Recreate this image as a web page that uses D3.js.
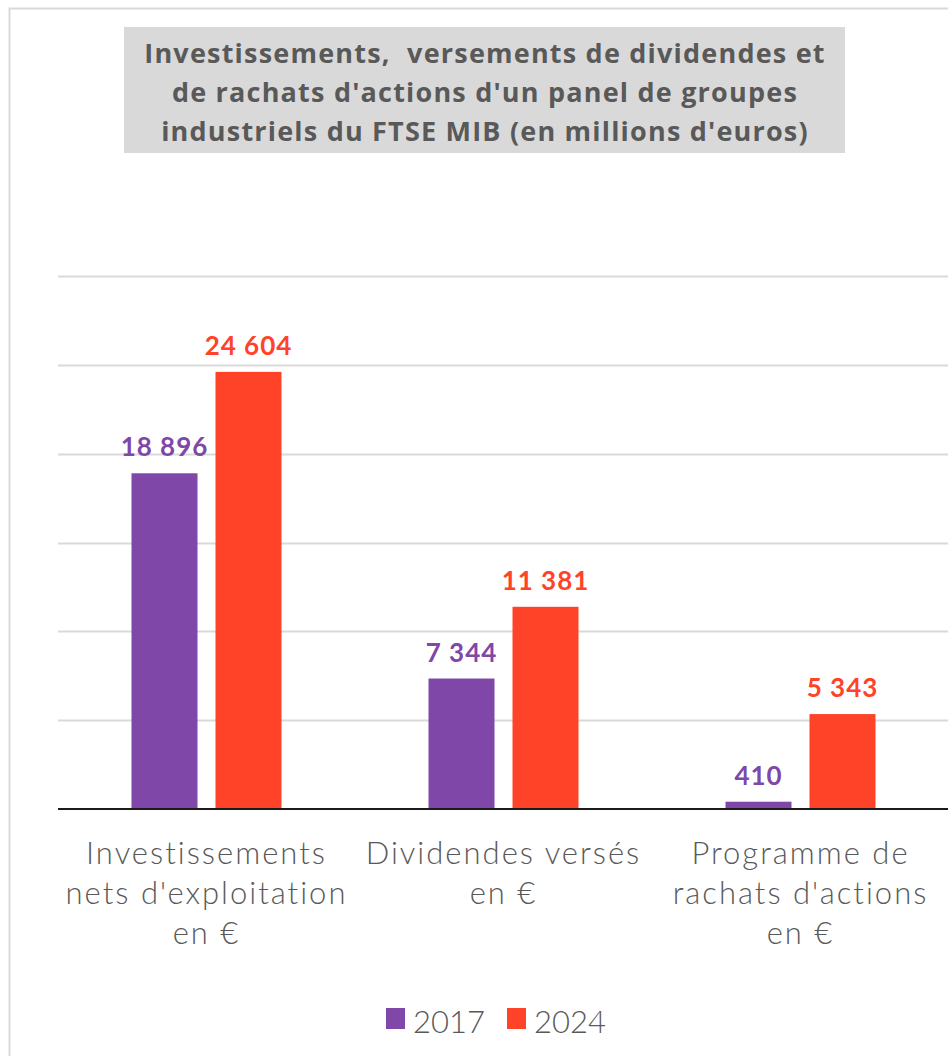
<!DOCTYPE html>
<html><head><meta charset="utf-8">
<script src="https://cdn.jsdelivr.net/npm/d3@7"></script>
<style>body{margin:0;background:#fff;}svg{display:block;}</style>
</head><body>
<svg id="chart" width="948" height="1056"></svg>
<script>
const categories = [
  ["Investissements", "nets d'exploitation", "en €"],
  ["Dividendes versés", "en €"],
  ["Programme de", "rachats d'actions", "en €"]
];
const seriesNames = ["2017", "2024"];
const values2017 = [18896, 7344, 410];
const values2024 = [24604, 11381, 5343];
const valueLabels2017 = ["18 896", "7 344", "410"];
const valueLabels2024 = ["24 604", "11 381", "5 343"];
const yTicks = [0, 5000, 10000, 15000, 20000, 25000, 30000];
const titleLines = [
  "Investissements,  versements de dividendes et",
  "de rachats d'actions d'un panel de groupes",
  "industriels du FTSE MIB (en millions d'euros)"
];
const colors = ["#7f47a8", "#ff4328"];
const font = "Lato, 'Open Sans', sans-serif";

const svg = d3.select("#chart");
// outer border
svg.append("rect").attr("x", 9.5).attr("y", 8.5).attr("width", 960).attr("height", 1070)
  .attr("fill", "#fff").attr("stroke", "#d9d9d9").attr("stroke-width", 2);

// title
svg.append("rect").attr("x", 124).attr("y", 27).attr("width", 721).attr("height", 126).attr("fill", "#d9d9d9");
const title = svg.append("text").attr("text-anchor", "middle").attr("font-family", "'Open Sans', Lato, sans-serif")
  .attr("font-weight", "bold").attr("font-size", 27).attr("fill", "#595959").attr("letter-spacing", 1.2)
  .style("white-space", "pre");
titleLines.forEach((l, i) => title.append("tspan").attr("x", 485).attr("y", 63 + i * 39).text(l));

const x0 = d3.scaleBand().domain(d3.range(categories.length)).range([58, 949]).paddingInner(0).paddingOuter(0);
const y = d3.scaleLinear().domain([0, 30000]).range([809, 276]);
const barW = 66, gap = 18;

// gridlines
svg.append("g").selectAll("line").data(yTicks.slice(1)).join("line")
  .attr("x1", 58).attr("x2", 948).attr("y1", d => Math.round(y(d)) + 0.5).attr("y2", d => Math.round(y(d)) + 0.5)
  .attr("stroke", "#d9d9d9").attr("stroke-width", 2);

const series = [values2017, values2024];
const labels = [valueLabels2017, valueLabels2024];
series.forEach((vals, s) => {
  const g = svg.append("g");
  vals.forEach((v, i) => {
    const cx = x0(i) + x0.bandwidth() / 2;
    const bx = s === 0 ? cx - gap / 2 - barW : cx + gap / 2;
    g.append("rect").attr("x", bx).attr("y", y(v)).attr("width", barW).attr("height", y(0) - y(v))
      .attr("fill", colors[s]);
    g.append("text").attr("x", bx + barW / 2).attr("y", y(v) - 17).attr("text-anchor", "middle")
      .attr("font-family", font).attr("font-weight", "bold").attr("font-size", 26).attr("letter-spacing", 1)
      .attr("fill", colors[s]).text(labels[s][i]);
  });
});

// baseline
svg.append("line").attr("x1", 58).attr("x2", 948).attr("y1", y(0)).attr("y2", y(0))
  .attr("stroke", "#1a1a1a").attr("stroke-width", 2);

// category labels
categories.forEach((lines, i) => {
  const cx = x0(i) + x0.bandwidth() / 2;
  const t = svg.append("text").attr("text-anchor", "middle").attr("font-family", font)
    .attr("font-weight", 300).attr("font-size", 31).attr("letter-spacing", 2).attr("fill", "#595959");
  lines.forEach((l, j) => t.append("tspan").attr("x", cx).attr("y", 864 + j * 40).text(l));
});

// legend
const legend = svg.append("g");
const legendX = [386, 507];
seriesNames.forEach((n, i) => {
  legend.append("rect").attr("x", legendX[i]).attr("y", 1008).attr("width", 19).attr("height", 21).attr("fill", colors[i]);
  legend.append("text").attr("x", legendX[i] + 27).attr("y", 1033).attr("font-family", font)
    .attr("font-weight", 300).attr("font-size", 31).attr("fill", "#595959").text(n);
});
</script>
</body></html>
